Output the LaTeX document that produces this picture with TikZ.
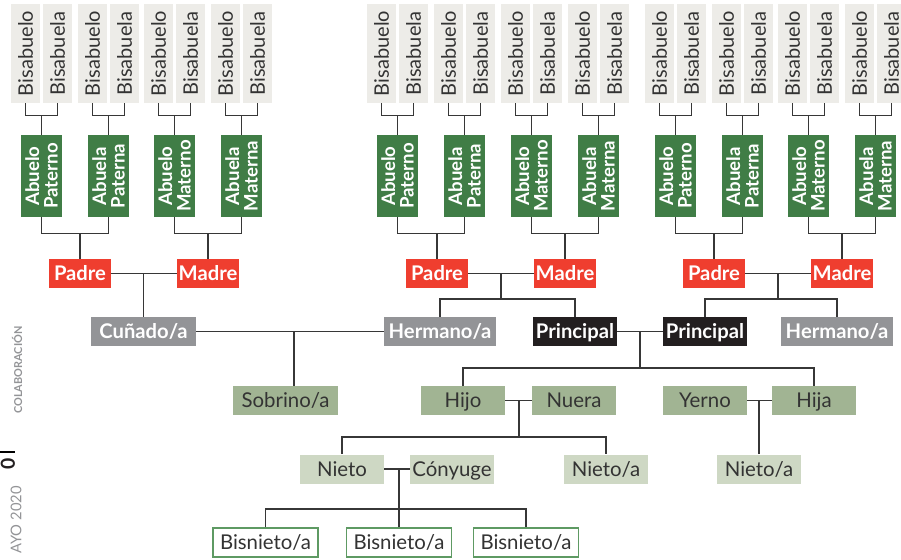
\documentclass[tikz,border=0pt]{standalone}
\usepackage{fontspec}
\setmainfont{Lato}

\definecolor{bisgris}{RGB}{237,236,232}
\definecolor{verdeab}{RGB}{64,125,70}
\definecolor{rojo}{RGB}{239,62,47}
\definecolor{gris}{RGB}{147,148,151}
\definecolor{negro}{RGB}{35,31,32}
\definecolor{verdehijo}{RGB}{161,180,147}
\definecolor{verdenieto}{RGB}{206,216,196}
\definecolor{verdeborde}{RGB}{94,154,99}
\definecolor{linea}{RGB}{55,55,55}
\definecolor{texto}{RGB}{51,51,51}

\tikzstyle{bisa}=[rotate=90, fill=bisgris, inner sep=0pt, minimum width=1.98cm, minimum height=0.58cm, text=texto, font=\fontsize{11.4}{11.4}\selectfont]
\tikzstyle{abue}=[rotate=90, fill=verdeab, inner sep=0pt, minimum width=1.64cm, minimum height=0.82cm, text=white, align=center, font=\bfseries\fontsize{10.6}{10.6}\selectfont]
\tikzstyle{rel}=[inner sep=0pt, minimum height=0.58cm, text height=8.2pt, text depth=0pt, font=\fontsize{11.6}{11.6}\selectfont]
\tikzstyle{padres}=[rel, fill=rojo, text=white, minimum width=1.24cm, font=\bfseries\fontsize{11.5}{11.5}\selectfont]
\tikzstyle{herm}=[rel, fill=gris, text=white, minimum width=2.24cm, font=\bfseries\fontsize{11.5}{11.5}\selectfont]
\tikzstyle{princ}=[rel, fill=negro, text=white, minimum width=1.68cm, font=\bfseries\fontsize{11.5}{11.5}\selectfont]
\tikzstyle{hijos}=[rel, fill=verdehijo, text=texto, minimum width=1.68cm]
\tikzstyle{nietos}=[rel, fill=verdenieto, text=texto, minimum width=1.68cm]
\tikzstyle{bisn}=[rel, draw=verdeborde, fill=white, text=texto, minimum width=2.1cm, line width=0.6pt]
\tikzstyle{rama}=[draw=linea, line width=0.85pt]

\begin{document}
\begin{tikzpicture}[x=0.02cm,y=-0.02cm]
        \useasboundingbox (0,0) rectangle (901,559);
        \clip (0,0) rectangle (901,559);
        % bisabuelos
        \draw (25.5,53.5) node[bisa](b1){Bisabuelo};
        \draw (57.5,53.5) node[bisa](b2){Bisabuela};
        \draw (92.5,53.5) node[bisa](b3){Bisabuelo};
        \draw (124.5,53.5) node[bisa](b4){Bisabuela};
        \draw (158.5,53.5) node[bisa](b5){Bisabuelo};
        \draw (190.5,53.5) node[bisa](b6){Bisabuela};
        \draw (225.5,53.5) node[bisa](b7){Bisabuelo};
        \draw (257.5,53.5) node[bisa](b8){Bisabuela};
        \draw (381.5,53.5) node[bisa](b9){Bisabuelo};
        \draw (413.5,53.5) node[bisa](b10){Bisabuela};
        \draw (448.5,53.5) node[bisa](b11){Bisabuelo};
        \draw (480.5,53.5) node[bisa](b12){Bisabuela};
        \draw (515.5,53.5) node[bisa](b13){Bisabuelo};
        \draw (547.5,53.5) node[bisa](b14){Bisabuela};
        \draw (582.5,53.5) node[bisa](b15){Bisabuelo};
        \draw (614.5,53.5) node[bisa](b16){Bisabuela};
        \draw (659.5,53.5) node[bisa](b17){Bisabuelo};
        \draw (691.5,53.5) node[bisa](b18){Bisabuela};
        \draw (726.5,53.5) node[bisa](b19){Bisabuelo};
        \draw (758.5,53.5) node[bisa](b20){Bisabuela};
        \draw (792.5,53.5) node[bisa](b21){Bisabuelo};
        \draw (824.5,53.5) node[bisa](b22){Bisabuela};
        \draw (859.5,53.5) node[bisa](b23){Bisabuelo};
        \draw (891.5,53.5) node[bisa](b24){Bisabuela};
        % abuelos
        \draw (41.5,176) node[abue](a1){Abuelo\\Paterno};
        \draw (108.5,176) node[abue](a2){Abuela\\Paterna};
        \draw (174.5,176) node[abue](a3){Abuelo\\Materno};
        \draw (241.5,176) node[abue](a4){Abuela\\Materna};
        \draw (397.5,176) node[abue](a5){Abuelo\\Paterno};
        \draw (464.5,176) node[abue](a6){Abuela\\Paterna};
        \draw (531.5,176) node[abue](a7){Abuelo\\Materno};
        \draw (598.5,176) node[abue](a8){Abuela\\Materna};
        \draw (675.5,176) node[abue](a9){Abuelo\\Paterno};
        \draw (742.5,176) node[abue](a10){Abuela\\Paterna};
        \draw (808.5,176) node[abue](a11){Abuelo\\Materno};
        \draw (875.5,176) node[abue](a12){Abuela\\Materna};
        % padres
        \draw (80,273.5) node[padres](p1){Padre};
        \draw (208,273.5) node[padres](m1){Madre};
        \draw (437,273.5) node[padres](p2){Padre};
        \draw (565,273.5) node[padres](m2){Madre};
        \draw (714,273.5) node[padres](p3){Padre};
        \draw (842,273.5) node[padres](m3){Madre};
        % hermanos
        \draw (143.5,331.5) node[herm,minimum width=2.1cm](cunado){Cuñado/a};
        \draw (440,331.5) node[herm](herm1){Hermano/a};
        \draw (575,331.5) node[princ](princ1){Principal};
        \draw (705,331.5) node[princ](princ2){Principal};
        \draw (837,331.5) node[herm](herm2){Hermano/a};
        % hijos
        \draw (285.5,400.5) node[hijos,minimum width=2.1cm](sobrino){Sobrino/a};
        \draw (463,400.5) node[hijos](hijo){Hijo};
        \draw (574,400.5) node[hijos](nuera){Nuera};
        \draw (705,400.5) node[hijos](yerno){Yerno};
        \draw (814,400.5) node[hijos](hija){Hija};
        % nietos
        \draw (342,469) node[nietos](nieto){Nieto};
        \draw (452,469) node[nietos](conyuge){Cónyuge};
        \draw (606,469) node[nietos](nietoa1){Nieto/a};
        \draw (759,469) node[nietos](nietoa2){Nieto/a};
        % bisnietos
        \draw (265.5,542.5) node[bisn](bn1){Bisnieto/a};
        \draw (399,542.5) node[bisn](bn2){Bisnieto/a};
        \draw (526,542.5) node[bisn](bn3){Bisnieto/a};
        %
        \coordinate (j1) at (294,331.5);
        \coordinate (j2) at (501,299);
        \coordinate (j3) at (778,299);
        \coordinate (j5) at (640,368);
        \coordinate (j6) at (519,437);
        \coordinate (j7) at (399,509);
        % ramas bisabuelos
        \draw[rama] (b1.west) -- ++(0,12) -| (b2.west);   \draw[rama] (a1.east) -- ++(0,-20);
        \draw[rama] (b3.west) -- ++(0,12) -| (b4.west);   \draw[rama] (a2.east) -- ++(0,-20);
        \draw[rama] (b5.west) -- ++(0,12) -| (b6.west);   \draw[rama] (a3.east) -- ++(0,-20);
        \draw[rama] (b7.west) -- ++(0,12) -| (b8.west);   \draw[rama] (a4.east) -- ++(0,-20);
        \draw[rama] (b9.west) -- ++(0,12) -| (b10.west);  \draw[rama] (a5.east) -- ++(0,-20);
        \draw[rama] (b11.west) -- ++(0,12) -| (b12.west); \draw[rama] (a6.east) -- ++(0,-20);
        \draw[rama] (b13.west) -- ++(0,12) -| (b14.west); \draw[rama] (a7.east) -- ++(0,-20);
        \draw[rama] (b15.west) -- ++(0,12) -| (b16.west); \draw[rama] (a8.east) -- ++(0,-20);
        \draw[rama] (b17.west) -- ++(0,12) -| (b18.west); \draw[rama] (a9.east) -- ++(0,-20);
        \draw[rama] (b19.west) -- ++(0,12) -| (b20.west); \draw[rama] (a10.east) -- ++(0,-20);
        \draw[rama] (b21.west) -- ++(0,12) -| (b22.west); \draw[rama] (a11.east) -- ++(0,-20);
        \draw[rama] (b23.west) -- ++(0,12) -| (b24.west); \draw[rama] (a12.east) -- ++(0,-20);
        % ramas abuelos
        \draw[rama] (a1.west) -- ++(0,16) -| (a2.west);   \draw[rama] (p1.north) -- ++(0,-26);
        \draw[rama] (a3.west) -- ++(0,16) -| (a4.west);   \draw[rama] (m1.north) -- ++(0,-26);
        \draw[rama] (a5.west) -- ++(0,16) -| (a6.west);   \draw[rama] (p2.north) -- ++(0,-26);
        \draw[rama] (a7.west) -- ++(0,16) -| (a8.west);   \draw[rama] (m2.north) -- ++(0,-26);
        \draw[rama] (a9.west) -- ++(0,16) -| (a10.west);  \draw[rama] (p3.north) -- ++(0,-26);
        \draw[rama] (a11.west) -- ++(0,16) -| (a12.west); \draw[rama] (m3.north) -- ++(0,-26);
        % parejas y descendencia
        \draw[rama] (p1.east) -- (m1.west);
        \draw[rama] (cunado.north) -- (cunado |- p1);
        \draw[rama] (p2.east) -- (m2.west);
        \draw[rama] (j2) -- (j2 |- p2);
        \draw[rama] (herm1.north) |- (j2) -| (princ1.north);
        \draw[rama] (p3.east) -- (m3.west);
        \draw[rama] (j3) -- (j3 |- p3);
        \draw[rama] (princ2.north) |- (j3) -| (herm2.north);
        \draw[rama] (cunado.east) -- (herm1.west);
        \draw[rama] (j1) -- (j1 |- sobrino.north);
        \draw[rama] (princ1.east) -- (princ2.west);
        \draw[rama] (j5) -- (j5 |- princ1);
        \draw[rama] (hijo.north) |- (j5) -| (hija.north);
        \draw[rama] (hijo.east) -- (nuera.west);
        \draw[rama] (j6) -- (j6 |- hijo);
        \draw[rama] (nieto.north) |- (j6) -| (nietoa1.north);
        \draw[rama] (yerno.east) -- (hija.west);
        \draw[rama] (nietoa2.north) -- (nietoa2 |- yerno);
        \draw[rama] (nieto.east) -- (conyuge.west);
        \draw[rama] (bn2.north) -- (bn2 |- nieto);
        \draw[rama] (bn1.north) |- (j7) -| (bn3.north);
        % margen
        \draw (17,370) node[rotate=90, text=gris, font=\bfseries\fontsize{6.2}{6.2}\selectfont](colab){COLABORACIÓN};
        \draw[line width=0.8pt] (0,452) -- (15,452);
        \draw (8,464) node[rotate=90, text=negro, font=\bfseries\fontsize{11}{11}\selectfont](pag){0};
        \draw (16,520) node[rotate=90, text=gris, font=\fontsize{8.4}{8.4}\selectfont](fecha){AYO 2020};
\end{tikzpicture}
\end{document}
